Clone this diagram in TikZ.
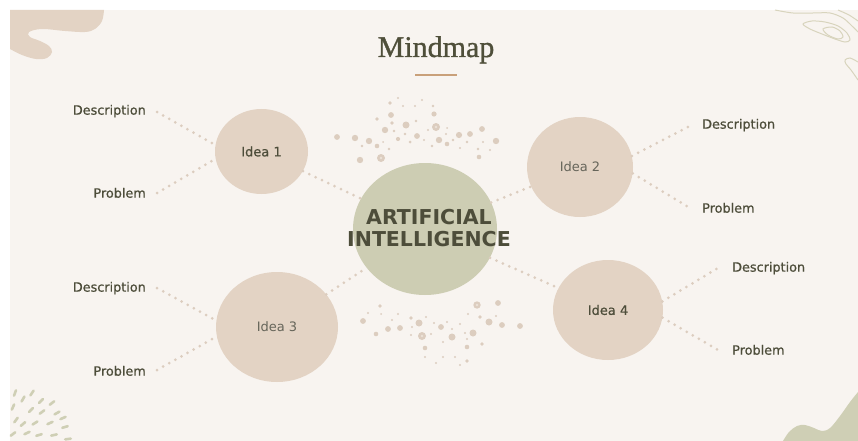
\documentclass[tikz,border=0pt]{standalone}
\usepackage{fontspec}
\setmainfont{Liberation Serif}
\newfontfamily\labfont{DejaVu Sans}
\newfontfamily\labmed[FakeBold=0.7]{DejaVu Sans}
\newfontfamily\titlefont[FakeBold=1.0]{Liberation Serif}
\usetikzlibrary{shapes.geometric,calc}
\definecolor{bgc}{HTML}{F8F4F0}
\definecolor{tanc}{HTML}{E3D3C4}
\definecolor{greenc}{HTML}{CDCDB3}
\definecolor{dotc}{HTML}{DCCDBF}
\definecolor{dotin}{HTML}{ECE2D8}
\definecolor{txtc}{HTML}{4D4D3A}
\definecolor{txtl}{HTML}{66655A}
\definecolor{titlec}{HTML}{4F4F3A}
\definecolor{barc}{HTML}{C9A07A}
\definecolor{olivec}{HTML}{CFCFB5}
\definecolor{contc}{HTML}{D8D4BD}
\begin{document}
\begin{tikzpicture}[x=1pt,y=-1pt,
  lab/.style={font=\labmed\fontsize{12.8}{14}\selectfont, text=txtc, inner sep=0pt, text height=9.3pt, text depth=0pt},
  idea/.style={ellipse, fill=tanc, inner sep=0pt},
  dotline/.style={draw=dotc, line width=3pt, line cap=round, dash pattern=on 0pt off 7pt},
  spk/.style={fill=dotc},
  dashc/.style={draw=olivec, line width=2.6pt, line cap=round},
  cont/.style={draw=contc, line width=1pt}
]
\useasboundingbox (0,0) rectangle (858,441);
\fill[white] (0,0) rectangle (858,441);
\fill[bgc] (10,10) rectangle (858,441);

% top-left blob
\fill[tanc] (10,10) -- (104,10) -- plot[smooth, tension=0.6] coordinates {(104,10) (102,21) (95,29) (85,32) (65,31) (42,29) (29,32) (30,37) (40,41) (49,46) (52,52) (47,58) (36,59) (22,55) (10,49)} -- cycle;

% bottom-right blob
\fill[olivec] (783,441) -- plot[smooth, tension=0.6] coordinates {(783,441) (789,432) (797,426) (805,425) (814,428) (822,431) (830,428) (840,416) (850,402) (858,392)} -- (858,441) -- cycle;

% top-right contours
\draw[cont] plot[smooth] coordinates {(775,10) (793,13) (813,13) (830,13) (843,18) (852,26) (858,32)};
\draw[cont] plot[smooth] coordinates {(838,10) (849,15) (858,21)};
\draw[cont] plot[smooth cycle] coordinates {(803,24) (812,21) (825,22) (838,26) (847,33) (850,40) (845,42) (835,39) (822,34) (810,29)};
\draw[cont] plot[smooth cycle] coordinates {(823,29) (832,27) (840,31) (843,37) (838,39) (828,35)};
\draw[cont] plot[smooth] coordinates {(858,62) (850,58) (845,60) (846,64) (851,70) (858,80)};

% bottom-left dashes
\coordinate (focus) at (-5,448);
\foreach \px/\py in {15/393, 32/393, 23/399, 41/401, 52/403, 13/407, 31/410, 42/412, 57/413, 63/418, 16/420, 23/424, 35/423, 50/423, 65/427, 13/434, 27/433, 39/435, 54/435, 68/439}
  { \draw[dashc] ($(\px,\py)!2.8pt!(focus)$) -- ($(\px,\py)!-2.8pt!(focus)$); }

% title
\node[font=\titlefont\fontsize{30}{36}\selectfont, text=titlec, anchor=base, inner sep=0pt] (title) at (436,57) {Mindmap};
\draw[barc, line width=2pt] (415,75) -- (457,75);

% speckles above
\foreach \px/\py/\r in {398/98/1.2, 390/103/1.8, 422/100/1.2, 403/106/1.2, 415/106/1.2, 433/106/1.4, 391/115/2.9, 434/114/2.6, 377/119/1.8, 392/123/1.8, 416/121/1.4, 406/125/3.5, 436/127/4, 385/130/3.2, 394/131/1.4, 428/130/1.2, 447/128/1, 482/129/2.9, 337/137/2.9, 355/138/3.2, 369/141/3.2, 398/139/2.1, 405/134/1.4, 417/136/2.9, 424/140/1.2, 446/134/1.2, 459/135/3.1, 470/134/2.9, 496/141/3.2, 439/140/3.2, 453/140/1.4, 410/142/1.5, 383/142/1, 362/146/1.4, 377/146/2.3, 389/149/1.4, 432/146/1.4, 447/144/2.3, 467/142/1.4, 483/142/1.2, 460/148/1.2, 478/149/1.4, 490/150/1.2, 360/160/3.2, 381/158/4, 479/157/2.3}
  { \fill[spk] (\px,\py) circle[radius=\r pt]; }
\foreach \px/\py in {436/127, 381/158}
  { \fill[dotin] (\px,\py) circle[radius=1.4pt]; }

% speckles below
\foreach \px/\py/\r in {380/306/1.8, 477/305/3.7, 498/303/2.9, 368/313/1.2, 381/314/1, 398/314/1.2, 411/318/1.8, 426/317/1.2, 468/314/1.2, 480/317/1.8, 496/316/1.2, 363/321/2.9, 392/320/1.2, 419/323/3.5, 434/323/1.2, 447/322/1.2, 460/324/1.2, 489/322/3.5, 502/325/2.9, 520/326/2.9, 376/334/2.3, 388/329/2.9, 400/328/2.9, 412/327/1.2, 441/327/2.9, 452/329/1.2, 473/333/3.5, 465/333/1.2, 422/336/4, 411/335/1.2, 431/334/1.2, 452/337/3.5, 467/339/1.2, 443/342/1.2, 425/348/2.3, 467/347/2.3, 482/344/1.8, 425/357/1.2, 443/357/1.2, 455/357/1.2, 436/363/1.2, 460/365/1.2, 467/361/1.8}
  { \fill[spk] (\px,\py) circle[radius=\r pt]; }
\foreach \px/\py in {477/305, 422/336}
  { \fill[dotin] (\px,\py) circle[radius=1.4pt]; }

% central node
\node[ellipse, fill=greenc, minimum width=144pt, minimum height=132pt, inner sep=0pt] (ai) at (425,229) {};
\node[font=\labfont\bfseries\fontsize{20.5}{22}\selectfont, text=txtc, align=center, inner sep=0pt] (aitext) at (429,228.5) {ARTIFICIAL\\INTELLIGENCE};

% ideas
\node[idea, minimum width=93pt, minimum height=85pt, text=txtc, font=\labmed\fontsize{13}{15}\selectfont] (i1) at (261.5,151.5) {Idea 1};
\node[idea, minimum width=106pt, minimum height=100pt, text=txtl, font=\labfont\fontsize{13}{15}\selectfont] (i2) at (580,167) {Idea 2};
\node[idea, minimum width=122pt, minimum height=110pt, text=txtl, font=\labfont\fontsize{13}{15}\selectfont] (i3) at (277,327) {Idea 3};
\node[idea, minimum width=110pt, minimum height=100pt, text=txtc, font=\labmed\fontsize{13}{15}\selectfont] (i4) at (608,310) {Idea 4};

% labels
\node[lab, anchor=east] (d1) at (146,110) {Description};
\node[lab, anchor=east] (p1) at (146,193) {Problem};
\node[lab, anchor=east] (d3) at (146,287) {Description};
\node[lab, anchor=east] (p3) at (146,371) {Problem};
\node[lab, anchor=west] (d2) at (702,124) {Description};
\node[lab, anchor=west] (p2) at (702,208) {Problem};
\node[lab, anchor=west] (d4) at (732,267) {Description};
\node[lab, anchor=west] (p4) at (732,350) {Problem};

% connectors
\draw[dotline] ([shift={(11,2)}]d1.east) -- (i1.172);
\draw[dotline] ([shift={(11,0)}]p1.east) -- (i1.189);
\draw[dotline] ([shift={(11,1)}]d3.east) -- (i3.174);
\draw[dotline] ([shift={(11,-1)}]p3.east) -- (i3.189);
\draw[dotline] (i2.12) -- ([shift={(-12,2)}]d2.west);
\draw[dotline] (i2.353) -- ([shift={(-12,0)}]p2.west);
\draw[dotline] (i4.9) -- ([shift={(-14,1)}]d4.west);
\draw[dotline] (i4.352) -- ([shift={(-14,0)}]p4.west);
\draw[dotline] (i1) -- (ai);
\draw[dotline] (i3) -- (ai);
\draw[dotline] (ai) -- (i2);
\draw[dotline] (ai) -- (i4);
\end{tikzpicture}
\end{document}
